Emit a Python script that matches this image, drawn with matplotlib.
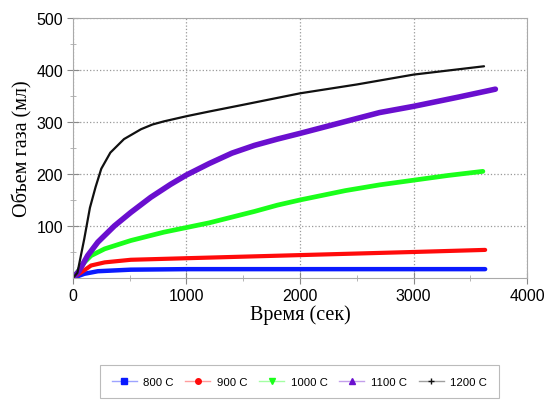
import matplotlib.pyplot as plt
from matplotlib.colors import to_rgba
from matplotlib.lines import Line2D

# Данные
t_800 = [0, 50, 100, 220, 510, 1000, 2000, 3000, 3630]
v_800 = [0, 4, 8, 13, 16, 17, 17, 17, 17]

t_900 = [0, 40, 75, 160, 280, 510, 1000, 1500, 2000, 2500, 3000, 3630]
v_900 = [0, 6, 11, 24, 30, 35, 38, 41, 44, 47, 50, 54]

t_1000 = [0, 50, 100, 160, 280, 510, 800, 1000, 1200, 1400, 1600, 1800, 2000, 2400, 2700, 3000, 3300, 3610]
v_1000 = [0, 14, 30, 43, 56, 72, 88, 97, 106, 117, 128, 140, 150, 168, 179, 188, 197, 205]

t_1100 = [0, 50, 130, 220, 365, 510, 685, 860, 1000, 1200, 1400, 1600, 1800, 2000, 2700, 3000, 3400, 3720]
v_1100 = [0, 12, 43, 69, 100, 126, 155, 180, 198, 220, 240, 255, 267, 278, 318, 330, 348, 363]

t_1200 = [0, 40, 100, 150, 200, 250, 330, 450, 600, 700, 800, 900, 1000, 1200, 1500, 2000, 2500, 3000, 3620]
v_1200 = [0, 10, 75, 135, 175, 210, 241, 267, 286, 295, 301, 306, 311, 320, 333, 355, 372, 391, 407]

labels = ['800 C', '900 C', '1000 C', '1100 C', '1200 C']
colors = ['#0a1aff', '#ff0a0a', '#1aff1a', '#6a0fcf', '#111111']
markers = ['s', 'o', 'v', '^', '+']


def create_chart(output_path='out.png'):
    fig = plt.figure(figsize=(5.48, 4.02), dpi=100)
    ax = fig.add_axes([0.133, 0.306, 0.829, 0.647])

    series = [(t_800, v_800), (t_900, v_900), (t_1000, v_1000),
              (t_1100, v_1100), (t_1200, v_1200)]
    widths = [3.2, 3.0, 3.4, 4.0, 1.6]
    for (t, v), c, w in zip(series, colors, widths):
        ax.plot(t, v, color=c, lw=w, solid_capstyle='round',
                solid_joinstyle='round')

    ax.set_xlim(0, 4000)
    ax.set_ylim(0, 500)
    ax.set_xticks([0, 1000, 2000, 3000, 4000])
    ax.set_yticks([100, 200, 300, 400, 500])
    ax.set_xticks(range(500, 4000, 1000), minor=True)
    ax.set_yticks(range(50, 500, 100), minor=True)
    ax.tick_params(which='major', direction='inout', length=8, color='#888888',
                   labelsize=11.5, labelfontfamily='Liberation Sans', pad=3)
    ax.tick_params(which='minor', direction='inout', length=5, color='#aaaaaa')
    ax.grid(True, which='major', linestyle=':', color='#999999', lw=0.9)
    for s in ax.spines.values():
        s.set_color('#aaaaaa')

    ax.set_xlabel('Время (сек)', fontsize=14.5, family='Liberation Serif', labelpad=1)
    ax.set_ylabel('Объем газа (мл)', fontsize=14.5, family='Liberation Serif', labelpad=3)

    # линии в легенде бледные, маркеры яркие
    handles = [Line2D([], [], color=to_rgba(c, 0.4), marker=m, lw=1,
                      markersize=4, markerfacecolor=c, markeredgecolor=c)
               for c, m in zip(colors, markers)]
    leg = fig.legend(handles, labels, loc='upper center', ncol=5,
                     bbox_to_anchor=(0.5465, 0.089),
                     frameon=True, fancybox=False, handlelength=2.2,
                     columnspacing=1.0, handletextpad=0.6,
                     borderpad=1.0, borderaxespad=0,
                     prop={'family': 'Liberation Sans', 'size': 8.2})
    leg.get_frame().set_edgecolor('#aaaaaa')
    leg.get_frame().set_linewidth(0.8)

    plt.savefig(output_path)
    plt.close()


if __name__ == '__main__':
    create_chart()
